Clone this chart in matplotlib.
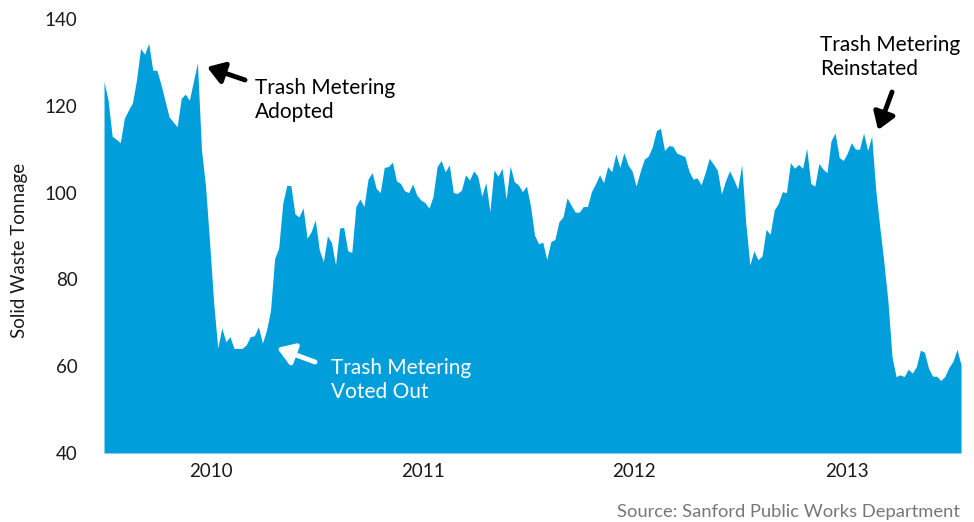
import numpy as np
import pandas as pd
import matplotlib
matplotlib.use('Agg')
import matplotlib.pyplot as plt

plt.rcParams['font.family'] = ['Lato', 'DejaVu Sans']

### Weekly solid waste tonnage, starting July 2009
start_date = '2009-07-01'
tonnage = [
    125.6, 121.3, 113.0, 112.3, 111.5, 117.1, 119.0, 120.7, 126.0, 133.2,
    131.9, 134.4, 128.2, 128.2, 125.0, 121.3, 117.5, 116.3, 115.2, 121.7,
    122.7, 121.3, 125.6, 129.9, 109.8, 101.4, 88.4, 74.6, 64.2, 68.8,
    65.6, 66.8, 64.1, 64.1, 64.1, 64.9, 66.8, 67.0, 69.1, 65.3,
    68.3, 72.9, 84.8, 87.2, 97.5, 101.7, 101.6, 95.1, 94.4, 96.5,
    89.5, 91.0, 93.7,
    86.8, 84.1, 90.0, 88.5, 83.3, 91.8, 92.0, 86.6, 86.2, 96.8,
    98.5, 96.8, 103.1, 104.6, 101.0, 100.0, 105.8, 106.0, 107.0, 102.7,
    102.1, 100.4, 100.0, 102.0, 99.4, 98.3, 97.7, 96.4, 99.1, 106.0,
    107.4, 104.8, 106.4, 100.0, 99.8, 100.6, 104.1, 102.9, 105.0, 103.8,
    99.2, 102.3, 95.6, 105.2, 103.8, 105.6, 98.5, 106.1, 102.5, 101.8,
    100.2, 101.5, 96.9,
    90.2, 88.2, 88.6, 84.6, 88.7, 89.2, 93.3, 94.4, 98.8, 97.1,
    95.5, 95.5, 96.8, 96.8, 100.2, 102.0, 104.1, 102.3, 106.0, 104.8,
    108.9, 105.8, 109.2, 106.4, 105.0, 101.5, 104.8, 107.7, 108.4, 110.6,
    114.3, 114.8, 109.7, 110.8, 110.7, 109.1, 108.7, 108.3, 105.0, 103.1,
    103.4, 101.8, 104.6, 107.9, 106.6, 105.2, 99.7, 102.7, 105.0, 103.1,
    100.8, 106.4,
    93.0, 83.3, 86.6, 84.5, 85.4, 91.5, 90.4, 96.0, 97.5, 100.2,
    100.0, 106.9, 105.6, 106.5, 105.6, 110.2, 102.1, 101.5, 106.7, 105.4,
    104.6, 112.0, 113.7, 108.1, 107.4, 109.1, 111.5, 110.0, 110.0, 113.7,
    109.7, 113.0, 100.6, 92.0, 84.0, 75.0, 62.2, 57.6, 58.0, 57.6,
    59.3, 58.4, 59.9, 63.7, 63.2, 59.5, 57.7, 57.7, 56.7, 57.6,
    59.7, 61.1, 63.9, 60.3,
]
year_labels = ['2010', '2011', '2012', '2013']
yticks = [40, 60, 80, 100, 120, 140]

dates = pd.date_range(start_date, periods=len(tonnage), freq='7D')
fill_color = '#009fdb'

fig = plt.figure(figsize=(9.74, 5.22), dpi=100)
ax = fig.add_axes([0.1068, 0.1322, 0.8799, 0.8314])

ax.fill_between(dates, 40, tonnage, color=fill_color, linewidth=0)

ax.set_xlim(dates[0], dates[-1])
ax.set_ylim(40, 140)
ax.set_yticks(yticks)
ax.set_xticks([pd.Timestamp(y + '-01-01') for y in year_labels])
ax.set_xticklabels(year_labels)

for s in ax.spines.values():
    s.set_visible(False)
ax.tick_params(axis='both', length=0, labelsize=13.5, colors='#1a1a1a')
ax.tick_params(axis='y', pad=19)
ax.tick_params(axis='x', pad=7)

fig.text(20 / 974, 1 - 250 / 522, 'Solid Waste Tonnage', rotation=90,
         ha='center', va='center', fontsize=13.5, color='#1a1a1a')

fig.text(960 / 974, 1 - 512 / 522, 'Source: Sanford Public Works Department',
         ha='right', va='center', fontsize=13.2, color='#777777')

### Annotations (axes fraction coordinates)
def ax_frac(px, py):
    return ((px - 104) / 857, (453 - py) / 434)

notes = [
    ('Trash Metering\nAdopted', (207, 67), (245, 80), (255, 100), 'black'),
    ('Trash Metering\nVoted Out', (277, 348), (315, 362), (331, 380), 'white'),
    ('Trash Metering\nReinstated', (878, 130), (892, 92), (820, 57), 'black'),
]
for label, head, tail, txt, col in notes:
    ax.annotate('', xy=ax_frac(*head), xytext=ax_frac(*tail),
                xycoords='axes fraction', textcoords='axes fraction',
                arrowprops=dict(arrowstyle='-|>,head_length=0.5,head_width=0.33',
                                lw=3.5, color=col, shrinkA=0, shrinkB=0,
                                mutation_scale=20))
    ax.text(*ax_frac(*txt), label, transform=ax.transAxes, ha='left',
            va='center', fontsize=15, color=col, linespacing=1.25)

fig.savefig('out.png', dpi=100)
